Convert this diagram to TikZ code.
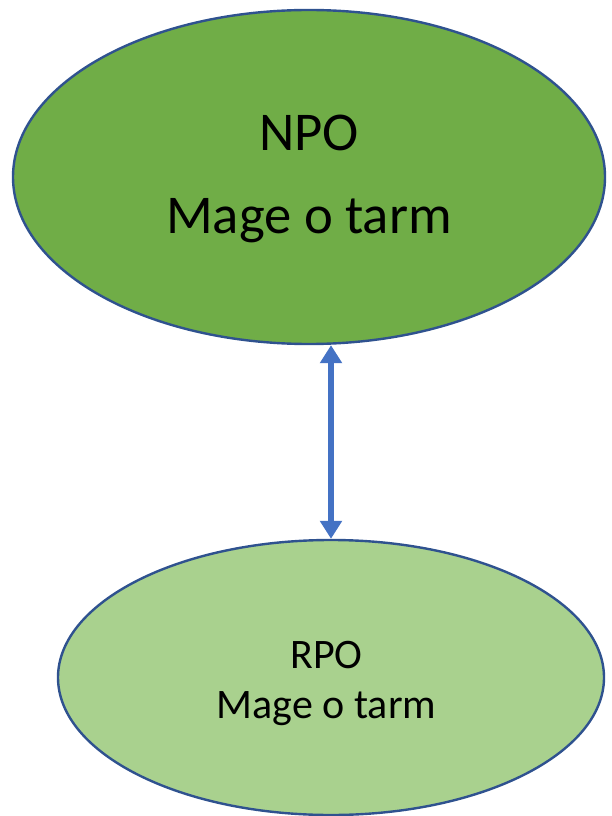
\documentclass[tikz,border=0pt]{standalone}
\usepackage{fontspec}
\setmainfont{Carlito}
\usepackage{tikz}
\usetikzlibrary{shapes.geometric, arrows.meta}

\definecolor{npogreen}{HTML}{70AD47}
\definecolor{rpogreen}{HTML}{A9D18E}
\definecolor{edgeblue}{HTML}{2F528F}
\definecolor{arrowblue}{HTML}{4472C4}

\begin{document}
\begin{tikzpicture}[x=0.75pt,y=0.75pt,yscale=-1,xscale=1,
  orgshape/.style={ellipse, draw=edgeblue, line width=1.8pt, inner sep=0pt},
  linkarrow/.style={draw=arrowblue, line width=5pt,
    {Triangle[width=16pt,length=13.5pt]}-{Triangle[width=16pt,length=13.5pt]}}]
\useasboundingbox (0,0) rectangle (611,816);

%Shape: Ellipse [top]
\node [orgshape, fill=npogreen, minimum width=444pt, minimum height=250.5pt] (npo) at (309,177) {};
%Shape: Ellipse [bottom]
\node [orgshape, fill=rpogreen, minimum width=409.5pt, minimum height=206.25pt] (rpo) at (331,677.5) {};

%Straight Lines [double arrow]
\draw [linkarrow] (rpo.north |- npo.south) -- (rpo.north) ;

% Text Node
\node [anchor=base, inner sep=0pt, font=\fontsize{41pt}{49pt}\selectfont] (nponame) at (309,151) {NPO};
% Text Node
\node [anchor=base, inner sep=0pt, font=\fontsize{41pt}{49pt}\selectfont] (npotext) at (309,234) {Mage o tarm};
% Text Node
\node [anchor=base, inner sep=0pt, font=\fontsize{31.5pt}{38pt}\selectfont] (rponame) at (326.5,668) {RPO};
% Text Node
\node [anchor=base, inner sep=0pt, font=\fontsize{31.5pt}{38pt}\selectfont] (rpotext) at (326.5,718) {Mage o tarm};
\end{tikzpicture}
\end{document}
